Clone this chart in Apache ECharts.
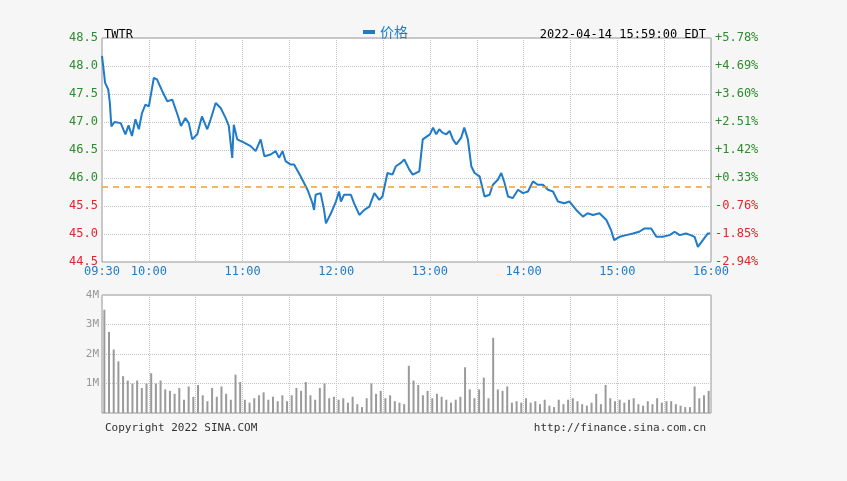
<!DOCTYPE html>
<html><head><meta charset="utf-8">
<script src="https://cdn.jsdelivr.net/npm/echarts@6/dist/echarts.min.js"></script>
<style>html,body{margin:0;padding:0;background:#f6f6f6;}#c{width:847px;height:481px;}</style>
</head><body><div id="c"></div>
<script>
var prevClose = 45.85;
var minutes = [0,2,4,5,6,8,12,15,17,19.2,21.4,23.6,25.6,27.8,30,33.2,35.2,38.6,41.8,45,48,50.6,53.4,55.6,57.8,61,64,67.4,69.6,72.8,76,79.2,81.2,82.8,83.4,84.4,86.6,91,95.2,98.4,101.6,104,108,111.2,113.4,115.6,117.6,120.8,123,127.2,131.6,134.8,135.8,136.8,140,142.2,143.4,146.6,149.8,151.8,153,155,159.4,161.4,164.8,168,171.2,174.4,177.6,179.6,182.8,186,188.2,191.4,193.6,196.8,199,203.2,205.4,
210,212,214,216,218,220.5,222.6,224.7,226.9,230,232,234.3,236.5,238.6,241.8,245,248.2,250.3,253.5,255.7,257.8,260,263,266.4,269.6,272.8,276,279,282.4,285.6,288.8,292,296,299.4,303.7,308,311,314.4,318.6,323,326,328,331.5,335.7,340,344,347.5,351.7,355,359,363.5,366.7,370,374,377,379.5,381.6,384.8,388,389.5];
var prices = [48.18,47.7,47.58,47.35,46.92,47.0,46.98,46.78,46.94,46.75,47.05,46.87,47.16,47.31,47.28,47.79,47.76,47.55,47.37,47.4,47.16,46.93,47.07,46.98,46.69,46.78,47.1,46.87,47.05,47.34,47.25,47.07,46.93,46.51,46.36,46.95,46.69,46.63,46.57,46.48,46.69,46.39,46.42,46.48,46.36,46.48,46.3,46.24,46.24,46.03,45.79,45.55,45.43,45.7,45.73,45.43,45.19,45.37,45.58,45.76,45.58,45.7,45.7,45.55,45.34,45.43,45.49,45.73,45.61,45.67,46.09,46.06,46.21,46.27,46.33,46.15,46.06,46.12,46.69,
46.78,46.9,46.78,46.87,46.81,46.78,46.84,46.69,46.6,46.72,46.9,46.69,46.21,46.09,46.03,45.67,45.7,45.88,45.97,46.09,45.91,45.67,45.64,45.79,45.73,45.76,45.94,45.88,45.88,45.79,45.76,45.58,45.55,45.58,45.43,45.31,45.37,45.34,45.37,45.25,45.07,44.89,44.95,44.98,45.01,45.04,45.1,45.1,44.95,44.95,44.98,45.04,44.98,45.01,44.98,44.95,44.77,44.89,45.01,45.01];
var volumes = [3.5,2.75,2.15,1.75,1.25,1.1,1.0,1.1,0.85,1.0,
1.35,1.0,1.1,0.8,0.75,0.65,0.85,0.45,0.9,0.55,
0.95,0.6,0.4,0.85,0.55,0.9,0.65,0.45,1.3,1.05,
0.45,0.35,0.5,0.6,0.7,0.45,0.55,0.4,0.6,0.4,
0.6,0.85,0.75,1.05,0.6,0.45,0.85,1.0,0.5,0.55,
0.45,0.5,0.35,0.55,0.3,0.2,0.5,1.0,0.65,0.75,
0.5,0.6,0.4,0.35,0.3,1.6,1.1,0.95,0.6,0.75,
0.5,0.65,0.55,0.45,0.35,0.45,0.55,1.55,0.8,0.5,
0.8,1.2,0.5,2.55,0.8,0.75,0.9,0.35,0.4,0.35,
0.5,0.35,0.4,0.3,0.45,0.25,0.2,0.45,0.3,0.45,
0.5,0.4,0.3,0.25,0.35,0.65,0.3,0.95,0.5,0.4,
0.45,0.35,0.45,0.5,0.3,0.25,0.4,0.3,0.5,0.35,
0.4,0.4,0.3,0.25,0.2,0.2,0.9,0.5,0.6,0.75];
var timeLabels = {0:'09:30',30:'10:00',90:'11:00',150:'12:00',210:'13:00',270:'14:00',330:'15:00',390:'16:00'};
var priceTicks = ['44.5','45.0','45.5','46.0','46.5','47.0','47.5','48.0','48.5'];
var pctTicks = ['-2.94%','-1.85%','-0.76%','+0.33%','+1.42%','+2.51%','+3.60%','+4.69%','+5.78%'];
var volTicks = ['','1M','2M','3M','4M'];

var priceData = minutes.map(function(m,i){return [m, prices[i]];});
var volData = volumes.map(function(v,i){return [i*3+1.5, v];});
var mono = 'DejaVu Sans Mono';
var grey = '#c4c4c4';
function tickIdx(v){return Math.round((v-44.5)/0.5);}
var chart = echarts.init(document.getElementById('c'));
chart.setOption({
  animation:false,
  backgroundColor:'#f6f6f6',
  title:[
    {text:'TWTR',left:99,top:24,textStyle:{fontFamily:mono,fontSize:12,fontWeight:'normal',color:'#000'}},
    {text:'2022-04-14 15:59:00 EDT',right:136,top:24,textStyle:{fontFamily:mono,fontSize:12,fontWeight:'normal',color:'#000'}},
    {text:'Copyright 2022 SINA.COM',left:100,top:418,textStyle:{fontFamily:mono,fontSize:11,fontWeight:'normal',color:'#333'}},
    {text:'http://finance.sina.com.cn',right:136,top:418,textStyle:{fontFamily:mono,fontSize:11,fontWeight:'normal',color:'#333'}}
  ],
  legend:{data:['价格'],left:358,top:20,icon:'rect',itemWidth:12,itemHeight:4,itemGap:8,textStyle:{color:'#1f7bc7',fontSize:14,fontFamily:'Noto Sans CJK SC'}},
  grid:[
    {left:102,right:136,top:38,height:224,backgroundColor:'#fff',show:true,borderColor:'#999'},
    {left:102,right:136,top:295,height:118,backgroundColor:'#fff',show:true,borderColor:'#999'}
  ],
  xAxis:[
    {type:'value',gridIndex:0,min:0,max:390,interval:30,
     axisLine:{show:false},axisTick:{show:false},
     splitLine:{show:true,lineStyle:{color:grey,type:'dotted'}},
     axisLabel:{fontFamily:mono,fontSize:12,color:'#1f7bc7',margin:4,formatter:function(v){return timeLabels[v]||'';}}},
    {type:'value',gridIndex:1,min:0,max:390,interval:30,
     axisLine:{show:false},axisTick:{show:false},axisLabel:{show:false},
     splitLine:{show:true,lineStyle:{color:grey,type:'dotted'}}}
  ],
  yAxis:[
    {type:'value',gridIndex:0,min:44.5,max:48.5,interval:0.5,position:'left',
     axisLine:{show:false},axisTick:{show:false},
     splitLine:{show:true,lineStyle:{color:grey,type:'dotted'}},
     axisLabel:{fontFamily:mono,fontSize:12,margin:4,
       formatter:function(v){return priceTicks[tickIdx(v)];},
       color:function(v){return v>prevClose?'#2e8b2e':'#e0262c';}}},
    {type:'value',gridIndex:0,min:44.5,max:48.5,interval:0.5,position:'right',
     axisLine:{show:false},axisTick:{show:false},splitLine:{show:false},
     axisLabel:{fontFamily:mono,fontSize:12,margin:4,
       formatter:function(v){return pctTicks[tickIdx(v)];},
       color:function(v){return v>prevClose?'#2e8b2e':'#e0262c';}}},
    {type:'value',gridIndex:1,min:0,max:4,interval:1,
     axisLine:{show:false},axisTick:{show:false},
     splitLine:{show:true,lineStyle:{color:grey,type:'dotted'}},
     axisLabel:{fontFamily:mono,fontSize:11,color:'#999',margin:3,formatter:function(v){return volTicks[v];}}}
  ],
  series:[
    {name:'价格',type:'line',xAxisIndex:0,yAxisIndex:0,data:priceData,showSymbol:false,
     lineStyle:{color:'#1f7bc7',width:2},itemStyle:{color:'#1f7bc7'},
     markLine:{silent:true,symbol:'none',label:{show:false},
       lineStyle:{color:'#f0a030',type:[6,5],width:1.5},data:[{yAxis:prevClose}]}},
    {name:'量',type:'bar',xAxisIndex:1,yAxisIndex:2,data:volData,barWidth:2,
     itemStyle:{color:'#9a9a9a'}}
  ]
});
</script></body></html>
